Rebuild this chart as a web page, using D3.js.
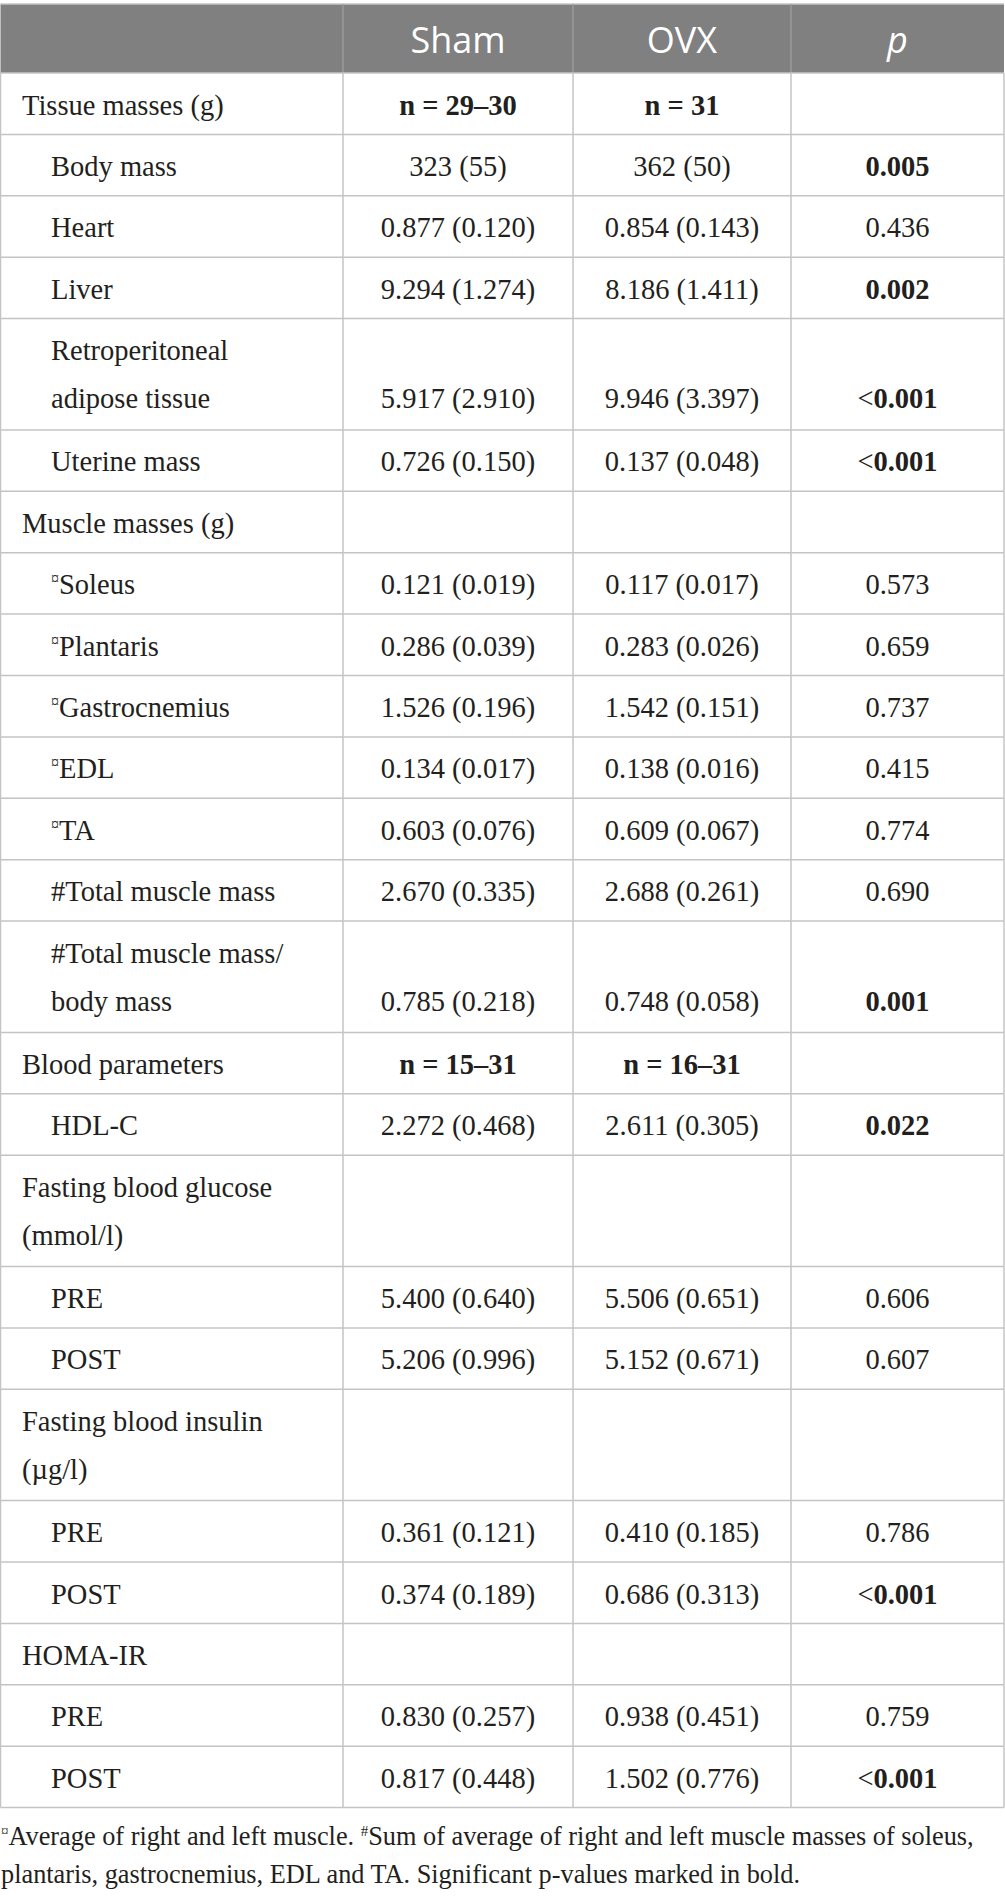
<!DOCTYPE html>
<html>
<head>
<meta charset="utf-8">
<script src="https://cdn.jsdelivr.net/npm/d3@7"></script>
<style>
  html, body { margin: 0; padding: 0; background: #fff; }
  svg { display: block; }
</style>
</head>
<body>
<div id="chart"></div>
<script>
// Table content
const headers = ["", "Sham", "OVX", "p"];

const rowLabels = [
  ["Tissue masses (g)"],
  ["Body mass"],
  ["Heart"],
  ["Liver"],
  ["Retroperitoneal", "adipose tissue"],
  ["Uterine mass"],
  ["Muscle masses (g)"],
  ["Soleus"],
  ["Plantaris"],
  ["Gastrocnemius"],
  ["EDL"],
  ["TA"],
  ["#Total muscle mass"],
  ["#Total muscle mass/", "body mass"],
  ["Blood parameters"],
  ["HDL-C"],
  ["Fasting blood glucose", "(mmol/l)"],
  ["PRE"],
  ["POST"],
  ["Fasting blood insulin", "(µg/l)"],
  ["PRE"],
  ["POST"],
  ["HOMA-IR"],
  ["PRE"],
  ["POST"]
];

// 0 = section heading, 1 = indented item
const rowLevel = [0, 1, 1, 1, 1, 1, 0, 1, 1, 1, 1, 1, 1, 1, 0, 1, 0, 1, 1, 0, 1, 1, 0, 1, 1];

// rows whose label carries the ¤ mark (average of right and left)
const avgMark = [7, 8, 9, 10, 11];

const shamValues = [
  "n = 29–30", "323 (55)", "0.877 (0.120)", "9.294 (1.274)", "5.917 (2.910)", "0.726 (0.150)",
  "", "0.121 (0.019)", "0.286 (0.039)", "1.526 (0.196)", "0.134 (0.017)", "0.603 (0.076)",
  "2.670 (0.335)", "0.785 (0.218)",
  "n = 15–31", "2.272 (0.468)", "", "5.400 (0.640)", "5.206 (0.996)",
  "", "0.361 (0.121)", "0.374 (0.189)", "", "0.830 (0.257)", "0.817 (0.448)"
];

const ovxValues = [
  "n = 31", "362 (50)", "0.854 (0.143)", "8.186 (1.411)", "9.946 (3.397)", "0.137 (0.048)",
  "", "0.117 (0.017)", "0.283 (0.026)", "1.542 (0.151)", "0.138 (0.016)", "0.609 (0.067)",
  "2.688 (0.261)", "0.748 (0.058)",
  "n = 16–31", "2.611 (0.305)", "", "5.506 (0.651)", "5.152 (0.671)",
  "", "0.410 (0.185)", "0.686 (0.313)", "", "0.938 (0.451)", "1.502 (0.776)"
];

const pValues = [
  "", "0.005", "0.436", "0.002", "<0.001", "<0.001",
  "", "0.573", "0.659", "0.737", "0.415", "0.774",
  "0.690", "0.001",
  "", "0.022", "", "0.606", "0.607",
  "", "0.786", "<0.001", "", "0.759", "<0.001"
];

const significant = [1, 3, 4, 5, 13, 15, 21, 24];
const sampleRows = [0, 14];

const footnote = [
  [["¤", true], ["Average of right and left muscle. ", false], ["#", true], ["Sum of average of right and left muscle masses of soleus,", false]],
  [["plantaris, gastrocnemius, EDL and TA. Significant p-values marked in bold.", false]]
];

// Layout
const W = 1005, H = 1897;
const colEdges = [0.5, 343, 573, 791, 1004];
const headTop = 4, headBottom = 73;
const rowH = 61.4, extraLine = 49.9, lineGap = 48;
const serif = "'Liberation Serif', 'Times New Roman', serif";
const sans = "'Open Sans', 'Noto Sans', sans-serif";
const ink = "#231f20";
const gridColor = "#c4c4c4";

const svg = d3.select("#chart").append("svg")
  .attr("width", W)
  .attr("height", H);

// row geometry
const rows = rowLabels.map((lab, i) => ({
  i, lab, lines: lab.length,
  h: rowH + (lab.length - 1) * extraLine
}));
let acc = headBottom;
rows.forEach(r => { r.y0 = acc; acc += r.h; r.y1 = acc; });
const tableBottom = acc;

const colCenter = i => (colEdges[i] + colEdges[i + 1]) / 2;

// header
svg.append("rect")
  .attr("x", colEdges[0]).attr("y", headTop)
  .attr("width", colEdges[4] - colEdges[0]).attr("height", headBottom - headTop)
  .attr("fill", "#808080");

svg.append("line")
  .attr("x1", colEdges[0]).attr("x2", colEdges[4])
  .attr("y1", headTop).attr("y2", headTop)
  .attr("stroke", gridColor).attr("stroke-width", 1.5);

svg.selectAll(".hdiv")
  .data(colEdges.slice(1, 4))
  .enter().append("line")
    .attr("x1", d => d).attr("x2", d => d)
    .attr("y1", headTop).attr("y2", headBottom)
    .attr("stroke", "#9a9a9a").attr("stroke-width", 1.5);

svg.selectAll(".htext")
  .data(headers)
  .enter().append("text")
    .attr("x", (d, i) => colCenter(i))
    .attr("y", 53)
    .attr("text-anchor", "middle")
    .attr("fill", "#fff")
    .style("font-family", sans)
    .style("font-size", "36px")
    .style("font-style", (d, i) => i === 3 ? "italic" : "normal")
    .text(d => d);

// horizontal grid lines
svg.selectAll(".hline")
  .data([headBottom].concat(rows.map(r => r.y1)))
  .enter().append("line")
    .attr("x1", colEdges[0]).attr("x2", colEdges[4])
    .attr("y1", d => d).attr("y2", d => d)
    .attr("stroke", gridColor).attr("stroke-width", 1.5);

// vertical grid lines
svg.selectAll(".vline")
  .data(colEdges)
  .enter().append("line")
    .attr("x1", d => d).attr("x2", d => d)
    .attr("y1", headBottom).attr("y2", tableBottom)
    .attr("stroke", gridColor).attr("stroke-width", 1.5);

// body text
const body = svg.append("g")
  .style("font-family", serif)
  .style("font-size", "28.5px")
  .attr("fill", ink);

const rowG = body.selectAll(".row")
  .data(rows)
  .enter().append("g");

// labels
rowG.each(function(r) {
  const g = d3.select(this);
  const x = rowLevel[r.i] === 0 ? 22 : 51;
  r.lab.forEach((line, k) => {
    const t = g.append("text")
      .attr("x", x)
      .attr("y", r.y0 + 41.5 + k * lineGap);
    if (k === 0 && avgMark.includes(r.i)) {
      t.append("tspan").style("font-size", "16px").attr("dy", -10).text("¤");
      t.append("tspan").attr("dy", 10).text(line);
    } else {
      t.text(line);
    }
  });
});

// values, aligned to the last line of the row
const valueY = r => r.y0 + 41.5 + (r.lines - 1) * lineGap;

[shamValues, ovxValues].forEach((vals, c) => {
  rowG.append("text")
    .attr("x", colCenter(c + 1))
    .attr("y", valueY)
    .attr("text-anchor", "middle")
    .style("font-weight", r => sampleRows.includes(r.i) ? "bold" : "normal")
    .text(r => vals[r.i]);
});

rowG.append("text")
  .attr("x", colCenter(3))
  .attr("y", valueY)
  .attr("text-anchor", "middle")
  .each(function(r) {
    const v = pValues[r.i];
    const t = d3.select(this);
    const bold = significant.includes(r.i);
    if (v.startsWith("<")) {
      t.append("tspan").text("<");
      t.append("tspan").style("font-weight", bold ? "bold" : "normal").text(v.slice(1));
    } else {
      t.style("font-weight", bold ? "bold" : "normal").text(v);
    }
  });

// footnote
const foot = svg.append("g")
  .style("font-family", serif)
  .style("font-size", "26.3px")
  .attr("fill", ink);

footnote.forEach((parts, k) => {
  const t = foot.append("text")
    .attr("x", 1)
    .attr("y", 1845 + k * 38);
  let raised = false;
  parts.forEach(([s, sup]) => {
    const sp = t.append("tspan").text(s);
    if (sup && !raised) { sp.attr("dy", -9).style("font-size", "15px"); raised = true; }
    else if (!sup && raised) { sp.attr("dy", 9); raised = false; }
    else if (sup) sp.style("font-size", "15px");
  });
});
</script>
</body>
</html>
